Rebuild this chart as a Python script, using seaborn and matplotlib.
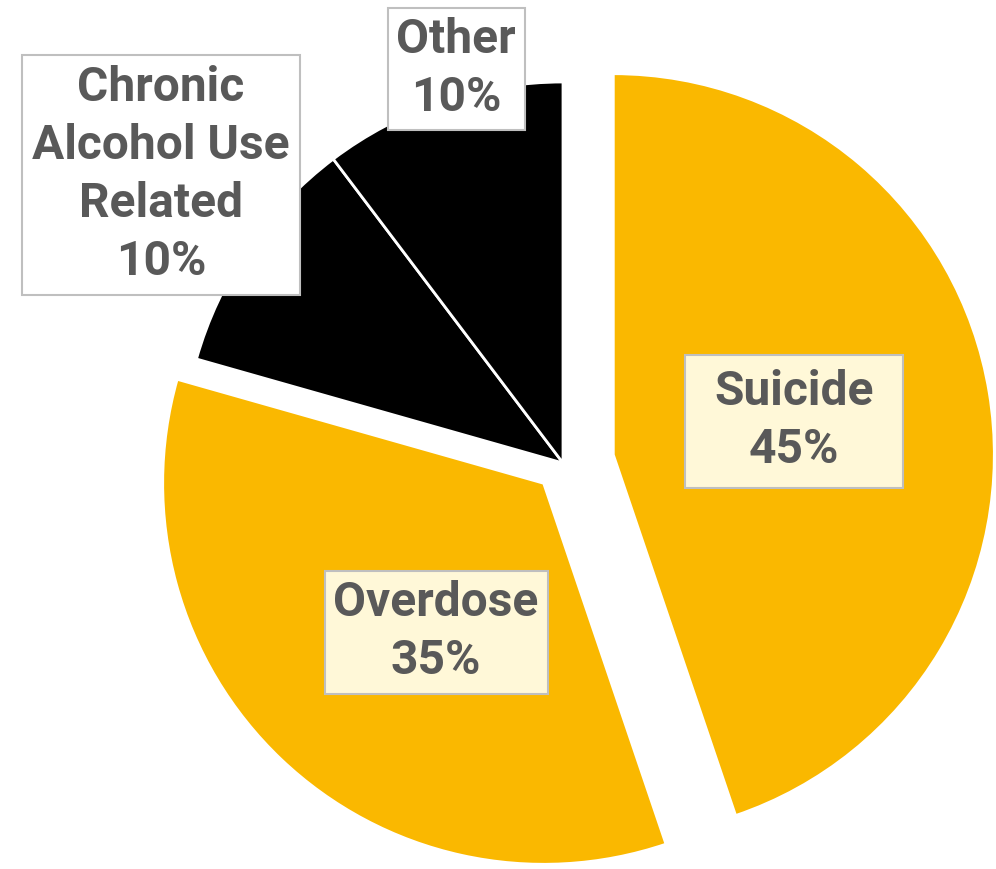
import matplotlib
matplotlib.use("Agg")
import matplotlib.pyplot as plt
import seaborn as sns
from matplotlib.patches import Rectangle

sns.set_style("white")
plt.rcParams['font.family'] = ['Roboto', 'DejaVu Sans']

# data (shares; labels show rounded values)
categories = ['Suicide', 'Overdose', 'Chronic\nAlcohol Use\nRelated', 'Other']
shares = [44.8, 34.6, 10.3, 10.3]
colors = ['#FAB800', '#FAB800', '#000000', '#000000']
explode = [51, 28, 0, 0]  # in pixel units (axes are in pixels)

# label boxes: center (x, y from top), width, height, fill
box_centers = [(794, 421), (436, 632), (161, 175), (456, 69)]
box_sizes = [(218, 133), (223, 123), (278, 240), (137, 122)]
box_fills = ['#FFF8D8', '#FFF8D8', 'white', 'white']

W, H = 996, 869
fig = plt.figure(figsize=(W / 100, H / 100), dpi=100)
ax = fig.add_axes([0, 0, 1, 1])

ax.pie(shares, colors=colors, explode=explode, startangle=90, counterclock=False,
       radius=381, center=(563, H - 463),
       wedgeprops=dict(edgecolor='white', linewidth=2))

for cat, val, (cx, cy), (bw, bh), fc in zip(categories, shares, box_centers, box_sizes, box_fills):
    ax.add_patch(Rectangle((cx - bw / 2, H - cy - bh / 2), bw, bh, facecolor=fc,
                           edgecolor='#BFBFBF', linewidth=1.5, zorder=3))
    ax.text(cx, H - cy, f"{cat}\n{val:.0f}%", ha='center', va='center', fontsize=34.5,
            fontweight='bold', color='#595959', linespacing=1.33, zorder=4)

ax.set_xlim(0, W)
ax.set_ylim(0, H)
ax.set_aspect('equal')
ax.axis('off')

plt.savefig('out.png', dpi=100)
plt.close()
